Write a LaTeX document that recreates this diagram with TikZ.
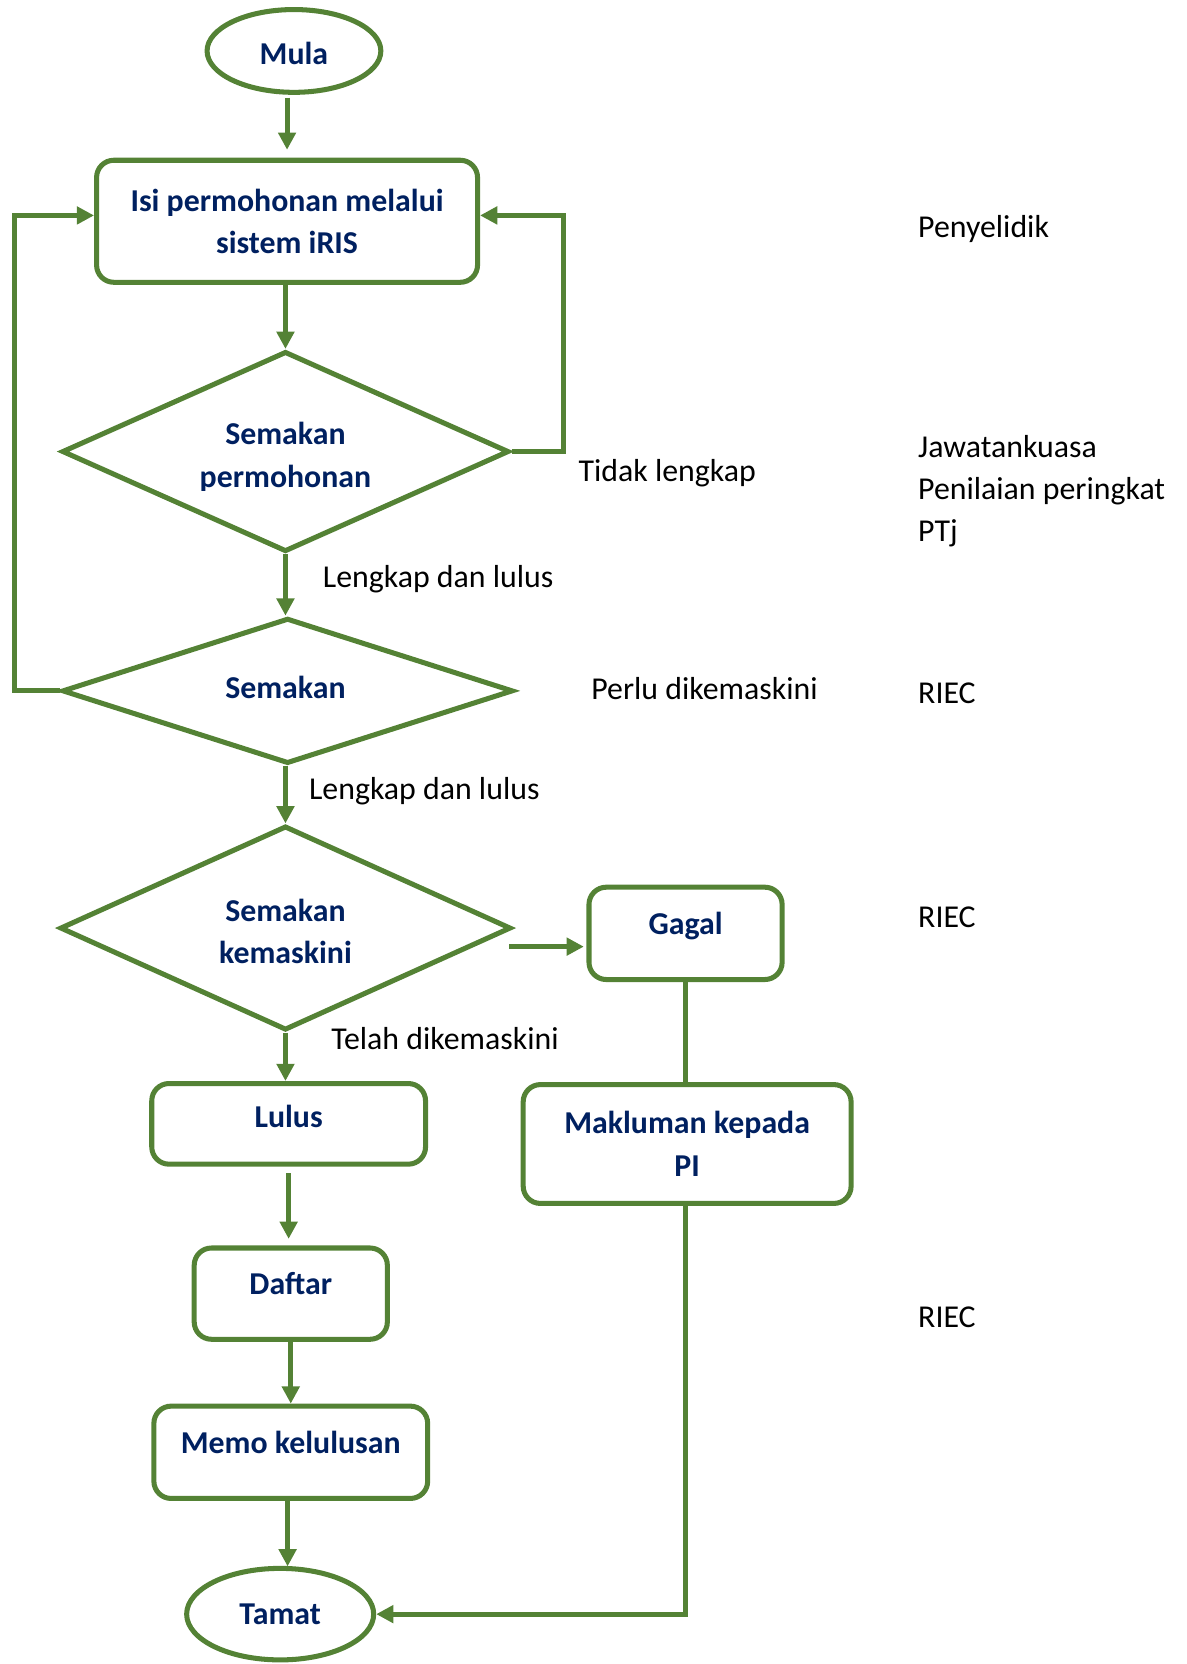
\documentclass[tikz,border=0pt]{standalone}
\usepackage{fontspec}
\setmainfont{Carlito}
\usetikzlibrary{shapes.geometric,arrows.meta}
\definecolor{grn}{HTML}{548235}
\definecolor{navy}{HTML}{002060}
\begin{document}
\begin{tikzpicture}[x=0.8pt,y=-0.8pt,
  every node/.style={font=\fontsize{24}{32}\selectfont, inner sep=0pt},
  lbl/.style={anchor=base west, text=black},
  ttl/.style={font=\fontsize{24}{32}\selectfont\bfseries, text=navy, align=center},
  ln/.style={draw=grn, line width=3.8pt},
  arr/.style={ln, -{Triangle[length=13pt,width=13pt]}},
  rbox/.style={draw=grn, line width=3.8pt, rounded corners=13pt, ttl},
  one/.style={text height=6.2pt, text depth=4.5pt},
  ell/.style={ellipse, draw=grn, line width=3.8pt, ttl, text depth=0pt},
  dia/.style={diamond, draw=grn, line width=3.8pt}
]
\useasboundingbox (0,0) rectangle (1118,1568);
% shapes
\node[ell, text height=21pt, minimum width=131pt, minimum height=62.4pt] (mula) at (277,48) {Mula};
\node[rbox, minimum width=287.2pt, minimum height=92pt] (isi) at (270.5,208.5) {Isi permohonan melalui\\sistem iRIS};
\node[dia, minimum width=337pt, minimum height=151pt] (d1) at (269,425.5) {};
\begin{scope}
\clip (100,380) rectangle (440,462);
\node[ttl, anchor=base] (d1a) at (269,419) {Semakan};
\node[ttl, anchor=base] (d1b) at (269,459) {permohonan};
\end{scope}
\node[dia, minimum width=340pt, minimum height=109.6pt] (d2) at (271,651) {};
\node[ttl, anchor=base] (d2a) at (269,658) {Semakan};
\node[dia, minimum width=340pt, minimum height=154pt] (d3) at (269,874.5) {};
\node[ttl, anchor=base] (d3a) at (269,868) {Semakan};
\node[ttl, anchor=base] (d3b) at (269,908) {kemaskini};
\node[rbox, one, minimum width=145.6pt, minimum height=69.6pt] (gagal) at (646,879.5) {Gagal};
\node[rbox, minimum width=247.2pt, minimum height=89.6pt] (mak) at (647.5,1078) {Makluman kepada\\PI};
\node[rbox, text height=6.2pt, text depth=0pt, minimum width=206.4pt, minimum height=60.8pt] (lulus) at (272,1059) {Lulus};
\node[rbox, one, minimum width=145.6pt, minimum height=68.8pt] (daftar) at (274,1219) {Daftar};
\node[rbox, one, minimum width=206.4pt, minimum height=69.6pt] (memo) at (274,1368.5) {Memo kelulusan};
\node[ell, text height=14.9pt, minimum width=141pt, minimum height=69pt] (tamat) at (264,1521) {Tamat};
% connectors
\draw[arr, shorten <=2pt, shorten >=6pt] (isi.north |- mula.south) -- (isi.north);
\draw[arr] (isi.south -| d1.north) -- (d1.north);
\coordinate (r1) at (531,203);
\draw[arr] (d1.east) -| (r1) -- (r1 -| isi.east);
\draw[arr] (d1.south) -- (d2.north -| d1.south);
\coordinate (l1) at (14,203);
\draw[arr] (d2.west) -| (l1) -- (l1 -| isi.west);
\draw[arr] (d2.south -| d3.north) -- (d3.north);
\coordinate (g0) at (480,892);
\draw[arr, shorten >=2pt] (g0) -- (g0 -| gagal.west);
\draw[ln] (gagal.south) -- (gagal.south |- mak.north);
\draw[arr] (mak.south -| gagal.south) |- (tamat.east);
\draw[arr] (d3.south) -- (d3.south |- lulus.north);
\draw[arr, shorten <=5pt, shorten >=5pt] (lulus.south) -- (lulus.south |- daftar.north);
\draw[arr] (daftar.south) -- (daftar.south |- memo.north);
\draw[arr] (memo.south -| 271,0) -- (271,1476);
% labels
\node[lbl] (t1) at (545,454) {Tidak lengkap};
\node[lbl] (t2) at (304,554) {Lengkap dan lulus};
\node[lbl] (t3) at (557,659) {Perlu dikemaskini};
\node[lbl] (t4) at (291,753) {Lengkap dan lulus};
\node[lbl] (t5) at (312,989) {Telah dikemaskini};
\node[lbl] (s1) at (865,224) {Penyelidik};
\node[lbl] (s2) at (865,431) {Jawatankuasa};
\node[lbl] (s3) at (865,471) {Penilaian peringkat};
\node[lbl] (s4) at (865,510) {PTj};
\node[lbl] (s5) at (865,663) {RIEC};
\node[lbl] (s6) at (865,874) {RIEC};
\node[lbl] (s7) at (865,1251) {RIEC};
\end{tikzpicture}
\end{document}
